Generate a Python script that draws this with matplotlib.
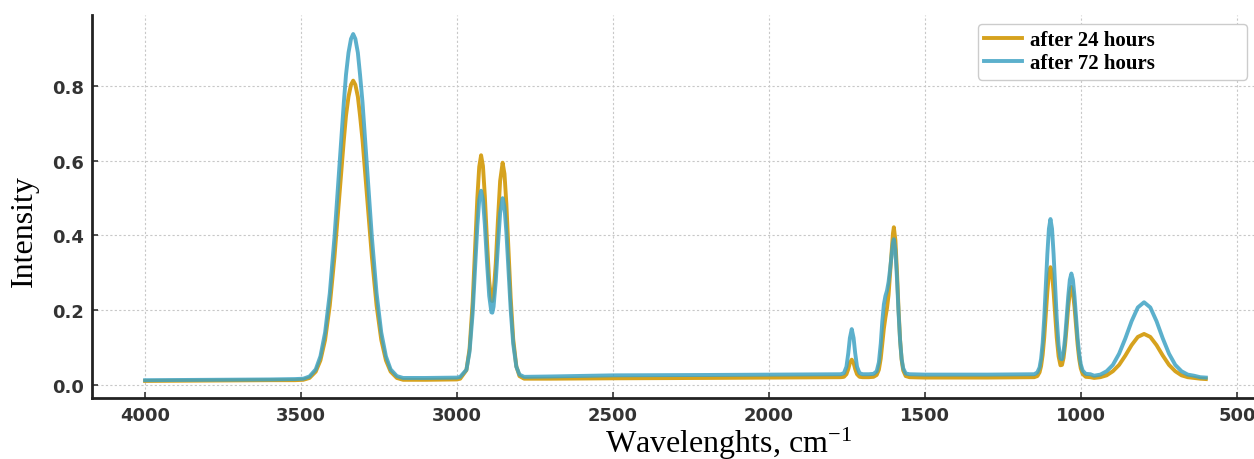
import matplotlib
matplotlib.use("Agg")
from matplotlib import pyplot as plt

plt.rcParams["mathtext.fontset"] = "custom"
plt.rcParams["mathtext.rm"] = "Liberation Serif"
plt.rcParams["mathtext.default"] = "rm"

# wavenumbers (cm-1)
wavenumber = [4000, 3800, 3600, 3520, 3493, 3473, 3453, 3438, 3423, 3408,
              3393, 3378, 3363, 3356, 3348, 3340, 3333, 3326, 3318, 3311,
              3303, 3288, 3273, 3258,
              3243, 3228, 3213, 3193, 3173, 3100, 3000,
              2990, 2970, 2960, 2950, 2942, 2935, 2929, 2923, 2917, 2911,
              2904, 2897, 2890, 2887, 2883, 2876, 2869, 2862, 2854, 2848,
              2842, 2835, 2828, 2820, 2810, 2800, 2785,
              2700, 2500, 2200, 2000, 1800,
              1780, 1770, 1760, 1752, 1746, 1741, 1735, 1729, 1724, 1718, 1710, 1700,
              1680, 1665, 1655, 1648, 1642, 1637, 1632, 1627, 1622, 1617, 1612,
              1607, 1603, 1600, 1595, 1590, 1585, 1580, 1575, 1570, 1562, 1550,
              1500, 1300,
              1150, 1140, 1133, 1128, 1123, 1118, 1113, 1108, 1103, 1098, 1093,
              1088, 1083, 1078, 1072, 1066, 1061, 1056, 1051, 1046, 1041, 1036,
              1031, 1026, 1021, 1016, 1011, 1006, 1001, 995, 985, 970,
              958, 938, 918, 898, 878, 858, 838, 818, 798, 778, 758, 738, 718,
              698, 678, 658, 638, 618, 600]

after_24h = [0.010, 0.011, 0.012, 0.012, 0.013, 0.018, 0.035, 0.065, 0.120, 0.212,
             0.342, 0.499, 0.655, 0.721, 0.772, 0.804, 0.815, 0.804, 0.772, 0.721,
             0.655, 0.499, 0.342, 0.212,
             0.120, 0.065, 0.035, 0.018, 0.013, 0.013, 0.014,
             0.016, 0.039, 0.096, 0.222, 0.369, 0.501, 0.584, 0.615, 0.586, 0.506,
             0.384, 0.277, 0.226, 0.224, 0.243, 0.325, 0.441, 0.546, 0.595, 0.565,
             0.485, 0.357, 0.231, 0.122, 0.049, 0.023, 0.016,
             0.016, 0.017, 0.018, 0.019, 0.020,
             0.020, 0.020, 0.021, 0.028, 0.042, 0.058, 0.067, 0.058, 0.042, 0.028, 0.021, 0.020,
             0.020, 0.021, 0.026, 0.040, 0.070, 0.110, 0.150, 0.180, 0.205, 0.240, 0.300,
             0.360, 0.405, 0.422, 0.387, 0.303, 0.203, 0.120, 0.066, 0.038, 0.023, 0.020,
             0.019, 0.019,
             0.020, 0.023, 0.033, 0.050, 0.080, 0.126, 0.186, 0.249, 0.297, 0.315, 0.297,
             0.249, 0.186, 0.127, 0.076, 0.052, 0.053, 0.072, 0.108, 0.156, 0.208, 0.247,
             0.262, 0.247, 0.208, 0.156, 0.107, 0.069, 0.044, 0.029, 0.021, 0.020,
             0.018, 0.020, 0.025, 0.036, 0.053, 0.078, 0.106, 0.128, 0.136, 0.128, 0.106, 0.078, 0.053,
             0.036, 0.025, 0.020, 0.018, 0.016, 0.015]

after_72h = [0.012, 0.013, 0.014, 0.015, 0.016, 0.022, 0.041, 0.076, 0.140, 0.245,
             0.395, 0.576, 0.756, 0.831, 0.890, 0.927, 0.940, 0.927, 0.890, 0.831,
             0.756, 0.576, 0.395, 0.245,
             0.140, 0.076, 0.041, 0.023, 0.018, 0.018, 0.019,
             0.021, 0.040, 0.088, 0.192, 0.315, 0.425, 0.495, 0.520, 0.496, 0.429,
             0.327, 0.238, 0.194, 0.193, 0.209, 0.277, 0.373, 0.460, 0.500, 0.476,
             0.409, 0.303, 0.199, 0.109, 0.048, 0.027, 0.021,
             0.022, 0.025, 0.026, 0.027, 0.028,
             0.028, 0.028, 0.031, 0.048, 0.085, 0.125, 0.149, 0.125, 0.085, 0.048, 0.031, 0.028,
             0.028, 0.029, 0.036, 0.060, 0.110, 0.170, 0.215, 0.238, 0.252, 0.275, 0.310,
             0.350, 0.380, 0.390, 0.360, 0.284, 0.194, 0.118, 0.069, 0.044, 0.030, 0.028,
             0.027, 0.027,
             0.028, 0.033, 0.046, 0.070, 0.112, 0.178, 0.262, 0.350, 0.418, 0.444, 0.418,
             0.350, 0.262, 0.179, 0.106, 0.070, 0.068, 0.088, 0.127, 0.181, 0.237, 0.281,
             0.298, 0.281, 0.237, 0.180, 0.125, 0.083, 0.055, 0.038, 0.029, 0.028,
             0.024, 0.027, 0.036, 0.053, 0.083, 0.124, 0.170, 0.207, 0.221, 0.207, 0.170, 0.124, 0.083,
             0.053, 0.036, 0.027, 0.024, 0.020, 0.019]

x_ticks = [4000, 3500, 3000, 2500, 2000, 1500, 1000, 500]
y_ticks = [0.0, 0.2, 0.4, 0.6, 0.8]

fig = plt.figure(figsize=(12.54, 4.6), dpi=100)
ax = fig.add_axes([0.0734, 0.1324, 0.928, 0.832])

ax.plot(wavenumber, after_24h, color="#D6A21E", lw=2.8, label="after 24 hours")
ax.plot(wavenumber, after_72h, color="#3FA3C4", lw=2.8, alpha=0.85, label="after 72 hours")

ax.set_xlim(4170, 440)
ax.set_ylim(-0.036, 0.99)
ax.set_xticks(x_ticks)
ax.set_yticks(y_ticks)
ax.set_xticklabels([str(t) for t in x_ticks], fontsize=13, fontweight="bold", color="#333333")
ax.set_yticklabels(["{:.1f}".format(t) for t in y_ticks], fontsize=13, fontweight="bold", color="#333333")
ax.tick_params(direction="in", length=4, width=1.2, color="#333333", pad=6)

for s in ["top", "right"]:
    ax.spines[s].set_visible(False)
for s in ["left", "bottom"]:
    ax.spines[s].set_linewidth(2)
    ax.spines[s].set_color("#222222")

ax.grid(color="#c8c8c8", linestyle=(0, (2, 2)), linewidth=0.8)
ax.set_axisbelow(True)

fig.text(24 / 1254, 1 - 231 / 460, "Intensity", family="Liberation Serif", fontsize=23,
         rotation=90, ha="center", va="center")
fig.text(728 / 1254, 1 - 453 / 460, "Wavelenghts, cm$^{-1}$", family="Liberation Serif",
         fontsize=23, ha="center", va="baseline")

leg = fig.legend(loc="upper left", bbox_to_anchor=(978 / 1254, 1 - 75 / 460, 269 / 1254, 50 / 460),
                 mode="expand", borderaxespad=0, handlelength=1.8, handletextpad=0.4,
                 labelspacing=0.15, borderpad=0.3, fancybox=True, framealpha=1,
                 edgecolor="#cccccc", prop={"family": "Liberation Serif", "weight": "bold", "size": 15})

fig.savefig("out.png", dpi=100)
